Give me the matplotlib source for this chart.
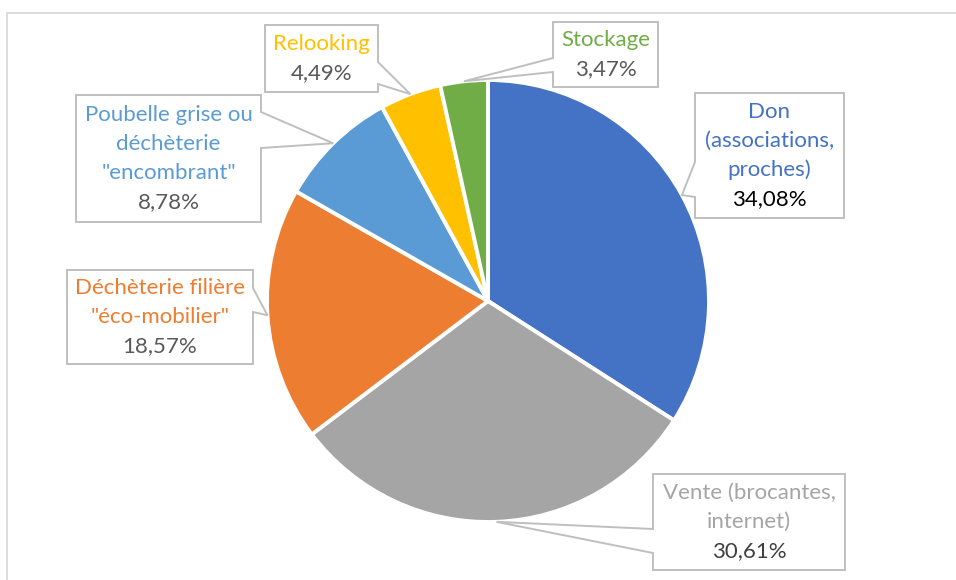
import matplotlib
matplotlib.use("Agg")
import matplotlib.pyplot as plt
from matplotlib.patches import Polygon
import numpy as np

# data
categories = ["Don\n(associations,\nproches)", "Vente (brocantes,\ninternet)",
              "Déchèterie filière\n\"éco-mobilier\"",
              "Poubelle grise ou\ndéchèterie\n\"encombrant\"",
              "Relooking", "Stockage"]
shares = [34.08, 30.61, 18.57, 8.78, 4.49, 3.47]
colors = ["#4472C4", "#A5A5A5", "#ED7D31", "#5B9BD5", "#FFC000", "#70AD47"]
pct_colors = ["#000000", "#404040", "#595959", "#595959", "#595959", "#595959"]

# layout (pixel space, y down)
cx, cy, R = 488, 301, 221
# box: left, top, right, bottom ; notch side and its two base positions
boxes = [
    ((695, 93, 844, 218), "left", (162, 197)),
    ((653, 474, 845, 570), "left", (529, 553)),
    ((67, 270, 253, 364), "right", (288, 312)),
    ((76, 95, 261, 222), "right", (112, 148)),
    ((265, 25, 378, 92), "right", (62, 84)),
    ((553, 22, 658, 87), "left", (58, 72)),
]

plt.rcParams['font.family'] = ['Lato', 'DejaVu Sans']
fig = plt.figure(figsize=(9.56, 5.8), dpi=100)
ax = fig.add_axes([0, 0, 1, 1])

# y axis is flipped, so start at -90 and go counterclockwise in data space
ax.pie(shares, colors=colors, center=(cx, cy), radius=R, startangle=-90,
       counterclock=True,
       wedgeprops=dict(edgecolor="white", linewidth=2.8))
ax.set_xlim(0, 956)
ax.set_ylim(580, 0)
ax.set_aspect("equal")
ax.axis("off")

# chart frame
ax.plot([7, 7, 970], [600, 13, 13], color="#D9D9D9", lw=1.3, clip_on=False)

cum = np.cumsum([0] + shares)
for i, (box, side, notch) in enumerate(boxes):
    a = np.deg2rad((cum[i] + shares[i] / 2) / 100 * 360)
    tip = (cx + R * np.sin(a), cy - R * np.cos(a))
    l, t, r, b = box
    pts = [(l, t), (r, t)]
    if side == "right":
        pts += [(r, notch[0]), tip, (r, notch[1])]
    pts += [(r, b), (l, b)]
    if side == "left":
        pts += [(l, notch[1]), tip, (l, notch[0])]
    ax.add_patch(Polygon(pts, closed=True, fc="white", ec="#BFBFBF", lw=1.4, zorder=5))

    lines = categories[i].split("\n")
    pct = f"{shares[i]:.2f}".replace(".", ",") + "%"
    n = len(lines) + 1
    pitch = 29
    y0 = (t + b) / 2 - pitch * (n - 1) / 2
    xm = (l + r) / 2
    for k, ln in enumerate(lines):
        ax.text(xm, y0 + k * pitch, ln, color=colors[i], fontsize=16,
                ha="center", va="center", zorder=6)
    ax.text(xm, y0 + (n - 1) * pitch, pct, color=pct_colors[i], fontsize=16,
            ha="center", va="center", zorder=6)

fig.savefig("out.png", dpi=100, facecolor="white")
